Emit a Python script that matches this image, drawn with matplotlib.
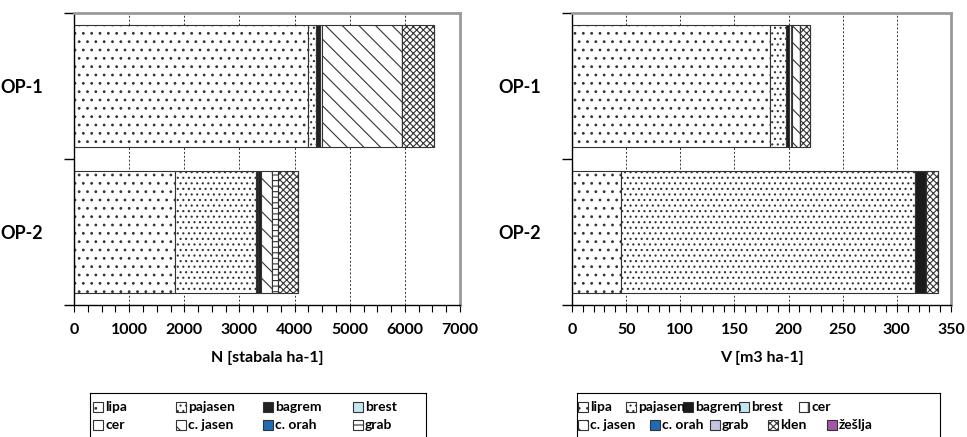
import matplotlib.pyplot as plt
from matplotlib.patches import Rectangle
from matplotlib.lines import Line2D
from matplotlib.ticker import MultipleLocator
import numpy as np

plt.rcParams['font.family'] = ['Lato', 'DejaVu Sans']
plt.rcParams['hatch.linewidth'] = 0.8

stands = ['OP-1', 'OP-2']
species = ['lipa', 'pajasen', 'bagrem', 'brest', 'cer',
           'c. jasen', 'c. orah', 'grab', 'klen', 'žešlja']

# broj stabala po ha
n_op1 = [4250, 130, 80, 0, 40, 1450, 0, 0, 570, 0]
n_op2 = [1840, 1460, 90, 0, 0, 200, 0, 110, 360, 0]
# zapremina po ha
v_op1 = [183, 15, 2.5, 0, 3, 7.5, 0, 0, 8.5, 0]
v_op2 = [45, 272, 9.8, 0, 0, 0, 0, 0, 11.6, 0]

# (boja, srafura) po vrsti
style_n = {
    'lipa': ('white', '..'), 'pajasen': ('white', '...'), 'bagrem': ('#222222', '|'),
    'brest': ('#c5e6ee', ''), 'cer': ('white', ''), 'c. jasen': ('white', '\\\\'),
    'c. orah': ('#1f6cb5', ''), 'grab': ('white', '---'), 'klen': ('white', 'xxxxx'),
    'žešlja': ('#a456a8', ''),
}
style_v = {
    'lipa': ('white', '..'), 'pajasen': ('white', '...'), 'bagrem': ('#1a1a1a', ''),
    'brest': ('#c5e6ee', ''), 'cer': ('white', '|'), 'c. jasen': ('white', '\\\\'),
    'c. orah': ('#1f6cb5', ''), 'grab': ('#c3c3e3', ''), 'klen': ('white', 'xxxxx'),
    'žešlja': ('#a456a8', ''),
}


def draw(ax, op1, op2, styles, xmax, major, minor, xlabel):
    data = np.array([op2, op1])  # OP-1 gore
    ypos = [0, 1]
    left = np.zeros(2)
    for j, sp in enumerate(species):
        face, hatch = styles[sp]
        vals = data[:, j]
        ax.barh(ypos, vals, left=left, height=0.84, color=face, hatch=hatch,
                edgecolor='#333333', linewidth=0.8, zorder=2)
        left += vals
    ax.set_xlim(0, xmax)
    ax.set_ylim(-0.5, 1.5)
    ax.set_yticks([1, 0])
    ax.set_yticklabels(stands, fontsize=13, fontweight='bold')
    ax.set_yticks([-0.5, 0.5, 1.5], minor=True)
    ax.tick_params(axis='y', which='major', length=0, pad=22)
    ax.tick_params(axis='y', which='minor', length=7, width=1)
    ax.xaxis.set_major_locator(MultipleLocator(major))
    ax.xaxis.set_minor_locator(MultipleLocator(minor))
    ax.tick_params(axis='x', which='both', direction='out', length=5, width=0.8,
                   labelsize=11.5, pad=8)
    for lab in ax.get_xticklabels():
        lab.set_fontweight('bold')
    ax.xaxis.grid(True, which='major', linestyle=(0, (2, 2)), color='#333333',
                  linewidth=0.7, zorder=0)
    ax.set_axisbelow(True)
    for s in ['top', 'right']:
        ax.spines[s].set_color('#9a9a9a')
        ax.spines[s].set_linewidth(2)
    for s in ['left', 'bottom']:
        ax.spines[s].set_color('black')
        ax.spines[s].set_linewidth(1)
    ax.set_xlabel(xlabel, fontsize=11.5, fontweight='bold', labelpad=10)


fig = plt.figure(figsize=(9.67, 4.37), dpi=100)
W, H = 967, 437
ax1 = fig.add_axes([74 / W, 1 - 305 / H, 386 / W, 292 / H])
ax2 = fig.add_axes([572 / W, 1 - 305 / H, 379 / W, 292 / H])

draw(ax1, n_op1, n_op2, style_n, 7000, 1000, 250, 'N [stabala ha-1]')
draw(ax2, v_op1, v_op2, style_v, 350, 50, 10, 'V [m3 ha-1]')


# legenda kao u Excelu, redovi teku slobodno (polozaji u pikselima)
def legend(styles, names, row_x, box_x0, box_x1):
    tf = fig.transFigure
    for xs, ys in [([box_x0, box_x0], [H, 393]), ([box_x0, box_x1], [393, 393]),
                   ([box_x1, box_x1], [393, H])]:
        fig.add_artist(Line2D([x / W for x in xs], [1 - y / H for y in ys],
                              transform=tf, color='black', linewidth=0.8))
    rows_y = [407, 425]
    i = 0
    for r, xs in enumerate(row_x):
        for x in xs:
            n = names[i]
            i += 1
            y = rows_y[r]
            face, hatch = styles[n]
            fig.add_artist(Rectangle((x / W, 1 - (y + 5) / H), 10 / W, 10 / H,
                                     transform=tf, facecolor=face, hatch=hatch,
                                     edgecolor='#333333', linewidth=0.8))
            fig.text((x + 12) / W, 1 - y / H, n, fontsize=10, fontweight='bold',
                     va='center', ha='left')


legend(style_n, species[:8], [[93, 176, 263, 353], [93, 176, 263, 353]], 90, 426)
legend(style_v, species, [[578, 626, 683, 739, 799], [578, 650, 710, 768, 827]],
       577, 940)

fig.savefig('out.png', dpi=100)
